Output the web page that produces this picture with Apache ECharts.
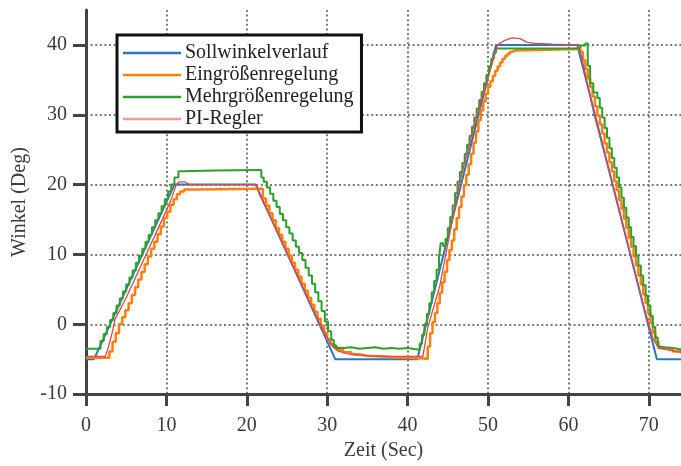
<!DOCTYPE html>
<html>
<head>
<meta charset="utf-8">
<script src="https://cdn.jsdelivr.net/npm/echarts@6/dist/echarts.min.js"></script>
<style>html,body{margin:0;padding:0;background:#fff}#c{width:681px;height:466px}</style>
</head>
<body>
<div id="c"></div>
<script>
const seriesNames = ['Sollwinkelverlauf', 'Eingrößenregelung', 'Mehrgrößenregelung', 'PI-Regler'];
const xTicks = [0, 10, 20, 30, 40, 50, 60, 70];
const yTicks = [-10, 0, 10, 20, 30, 40];

const soll = [[0,-5],[1,-5],[11,20],[21.1,20],[31,-5],[41.2,-5],[51,40],[61.1,40],[71,-5],[74,-5]];

const eingroessen = [[0,-4.8],[2.5,-4.8],
 [2.9,-3.9],[3.3,-2.5],[3.7,-1.3],[4.1,0],[4.5,1.0],[4.9,2.0],[5.3,3.0],[5.7,4.2],[6.1,5.3],[6.5,6.4],[6.9,7.5],[7.3,8.6],[7.7,9.7],[8.1,10.8],[8.5,11.8],[8.9,12.9],[9.3,14.0],[9.7,15.2],[10.1,16.1],[10.5,17.1],[10.9,17.9],[11.3,18.6],[11.7,19.0],[12.2,19.3],[14,19.4],[21.6,19.4],
 [22.0,18.0],[22.4,17.0],[22.8,15.9],[23.2,14.9],[23.6,13.8],[24.0,12.8],[24.4,11.8],[24.8,10.8],[25.2,9.8],[25.6,8.8],[26.0,7.8],[26.4,6.8],[26.8,5.8],[27.2,4.8],[27.6,3.8],[28.0,2.8],[28.4,1.8],[28.8,0.8],[29.2,-0.2],[29.6,-1.2],[30.0,-2.1],[30.4,-2.8],[30.8,-3.3],[31.3,-3.7],[32,-4.0],[33,-4.3],[34,-4.5],[35,-4.6],[37,-4.8],[39,-4.9],[42.2,-5.0],
 [42.5,-3.2],[42.8,-1.3],[43.1,0.3],[43.4,1.6],[43.7,3.0],[44.0,4.5],[44.3,6.0],[44.6,7.5],[44.9,9.2],[45.2,10.6],[45.5,12.0],[45.8,13.6],[46.1,15.2],[46.4,16.8],[46.7,18.3],[47.0,19.9],[47.3,21.4],[47.6,22.9],[47.9,24.4],[48.2,26.0],[48.5,27.6],[48.8,29.2],[49.1,30.6],[49.4,31.9],[49.7,33.0],[50.0,34.0],[50.3,34.8],[50.6,35.6],[50.9,36.3],[51.2,36.9],[51.5,37.5],[51.8,38.0],[52.1,38.4],[52.4,38.7],[52.7,39.0],[53.0,39.2],[53.4,39.4],[61.2,39.4],
 [61.5,39.0],[61.8,37.8],[62.1,36.6],[62.4,35.2],[62.7,34.0],[63.0,32.6],[63.3,31.2],[63.6,29.9],[63.9,28.6],[64.2,27.3],[64.5,25.9],[64.8,24.6],[65.1,23.2],[65.4,21.9],[65.7,20.5],[66.0,19.2],[66.3,17.8],[66.6,16.5],[66.9,15.1],[67.2,13.8],[67.5,12.4],[67.8,11.1],[68.1,9.7],[68.4,8.4],[68.7,7.0],[69.0,5.7],[69.3,4.3],[69.6,3.0],[69.9,1.6],[70.2,0.2],[70.5,-1.2],[70.8,-2.5],[71.2,-3.4],[72,-3.6],[73,-3.9],[74,-4.2]];

const mehrgroessen = [[0,-3.5],[1.4,-3.5],
 [1.8,-2.4],[2.2,-1.4],[2.6,-0.4],[3.0,0.6],[3.4,1.6],[3.8,2.7],[4.2,3.7],[4.6,4.7],[5.0,5.7],[5.4,6.7],[5.8,7.7],[6.2,8.8],[6.6,9.8],[7.0,10.8],[7.4,11.8],[7.8,12.8],[8.2,13.9],[8.6,14.9],[9.0,15.9],[9.4,16.9],[9.8,17.9],[10.2,19.0],[10.6,20.0],[11.0,21.0],[11.5,21.9],[12,22.0],[16,22.1],[21.5,22.1],
 [21.8,21.0],[22.1,20.4],[22.5,19.6],[22.9,18.7],[23.3,17.7],[23.7,16.8],[24.1,15.8],[24.5,14.9],[24.9,13.9],[25.3,13.0],[25.7,12.0],[26.1,11.1],[26.5,10.2],[26.9,9.2],[27.3,8.1],[27.7,7.0],[28.1,5.8],[28.5,4.6],[28.9,3.3],[29.3,1.9],[29.7,0.4],[30.1,-1.0],[30.5,-2.2],[30.8,-3.0],[31.1,-3.4],
 [32,-3.3],[33,-3.5],[34,-3.4],[35,-3.3],[36,-3.5],[37,-3.4],[38,-3.5],[39,-3.4],[40,-3.6],[41.2,-3.6],
 [41.5,-2.8],[41.8,-1.5],[42.1,0],[42.4,1.5],[42.7,3.0],[43.0,4.6],[43.3,6.2],[43.6,7.8],[43.9,9.4],[44.1,11.6],[44.4,11.2],[44.7,12.2],[45.0,13.8],[45.3,15.4],[45.6,17.0],[45.9,18.8],[46.2,20.4],[46.5,21.8],[46.8,23.1],[47.1,24.4],[47.4,25.7],[47.7,27.0],[48.0,28.3],[48.3,29.6],[48.6,30.9],[48.9,32.1],[49.2,33.3],[49.5,34.5],[49.8,35.7],[50.1,36.9],[50.4,38.0],[50.7,38.9],[51.0,39.5],
 [55,39.5],[60,39.5],[61.0,39.6],[61.5,39.9],[62.1,40.2],
 [62.4,37.0],[62.7,34.5],[63.1,33.2],[63.6,32.4],[63.9,31.0],[64.2,29.6],[64.5,28.1],[64.8,26.7],[65.1,25.2],[65.4,23.8],[65.7,22.4],[66.0,21.0],[66.3,19.6],[66.6,18.1],[66.9,16.7],[67.2,15.3],[67.5,13.9],[67.8,12.5],[68.1,11.2],[68.4,9.8],[68.7,8.4],[69.0,7.0],[69.3,5.6],[69.6,4.1],[69.9,2.7],[70.2,1.2],[70.5,-0.4],[70.8,-1.9],[71.1,-3.2],[71.5,-3.3],[72,-3.4],[73,-3.6],[74,-3.9]];

const piRegler = [[0,-4.6],[2.4,-4.6],[2.8,-3.2],[3.3,-1.0],[3.6,0.7],[5,3.8],[7,8.8],[9,13.8],[10.5,17.6],[11.2,19.9],[11.6,20.4],[12.3,20.4],[12.8,20.0],[21.2,20.0],[21.6,18.5],[22,17.6],[23,15.2],[25,10.2],[27,5.2],[29,0.3],[30.5,-3.0],[31.3,-3.8],[32.5,-4.2],[34,-4.45],[36,-4.6],[41.9,-4.6],[42.5,-0.5],[44,5.5],[46.4,20],[48.6,30],[51.2,40],[52,40.6],[53,41.0],[54,40.9],[54.8,40.4],[56,40.2],[58,40.1],[61.2,40.0],[61.6,38.5],[63.2,30],[65.5,20],[67.7,10],[69.5,2],[70.5,-2],[71.2,-3.4],[72.5,-3.7],[74,-4.0]];

const colors = ['#2878be', '#ff7f0e', '#2ca02c', '#e2474a'];
const legendColors = ['#2878be', '#ff7f0e', '#2ca02c', '#f09a9a'];

const font = 'Liberation Serif';
const chart = echarts.init(document.getElementById('c'), null, {renderer: 'canvas'});
const gridDots = {show: true, showMaxLine: false, lineStyle: {color: '#7a7a7a', width: 2, type: [2, 2.6]}};
chart.setOption({
  animation: false,
  backgroundColor: '#fff',
  grid: {left: 86, right: 0, top: 10, bottom: 67, containLabel: false},
  legend: {
    orient: 'vertical', left: 117, top: 35, width: 241,
    padding: [8, 8, 3, 6], itemGap: 2, itemWidth: 58, itemHeight: 2.6, icon: 'rect',
    backgroundColor: '#fff', borderColor: '#111', borderWidth: 3,
    textStyle: {fontFamily: font, fontSize: 20, color: '#222', padding: [0, 0, 0, -1]},
    data: seriesNames.map((n, i) => ({name: n, icon: 'rect', itemStyle: {color: legendColors[i]}}))
  },
  xAxis: {
    type: 'value', min: 0, max: 74, interval: 10,
    name: 'Zeit (Sec)', nameLocation: 'middle', nameGap: 44,
    nameTextStyle: {fontFamily: font, fontSize: 20, color: '#3a3a3a'},
    axisLine: {show: true, onZero: false, lineStyle: {color: '#444', width: 3}},
    axisTick: {show: true, inside: false, length: 12, lineStyle: {color: '#444', width: 3}},
    axisLabel: {fontFamily: font, fontSize: 20, color: '#3a3a3a', margin: 22, showMaxLabel: false,
      formatter: v => xTicks.includes(v) ? String(v) : ''},
    splitLine: gridDots
  },
  yAxis: {
    type: 'value', min: -10, max: 45, interval: 10,
    name: 'Winkel (Deg)', nameLocation: 'middle', nameGap: 54,
    nameTextStyle: {fontFamily: font, fontSize: 20, color: '#3a3a3a'},
    axisLine: {show: true, onZero: false, lineStyle: {color: '#444', width: 3}},
    axisTick: {show: true, inside: false, length: 13, lineStyle: {color: '#444', width: 3}},
    axisLabel: {fontFamily: font, fontSize: 20, color: '#3a3a3a', margin: 19, showMaxLabel: false,
      formatter: v => yTicks.includes(v) ? String(v) : ''},
    splitLine: gridDots
  },
  series: [
    {name: seriesNames[0], type: 'line', data: soll, symbol: 'none', lineStyle: {color: colors[0], width: 2}, itemStyle: {color: colors[0]}},
    {name: seriesNames[1], type: 'line', data: eingroessen, step: 'end', symbol: 'none', lineStyle: {color: colors[1], width: 2.5}, itemStyle: {color: colors[1]}},
    {name: seriesNames[2], type: 'line', data: mehrgroessen, step: 'end', symbol: 'none', lineStyle: {color: colors[2], width: 2}, itemStyle: {color: colors[2]}},
    {name: seriesNames[3], type: 'line', data: piRegler, symbol: 'none', lineStyle: {color: colors[3], width: 1.3}, itemStyle: {color: colors[3]}}
  ]
});
</script>
</body>
</html>
